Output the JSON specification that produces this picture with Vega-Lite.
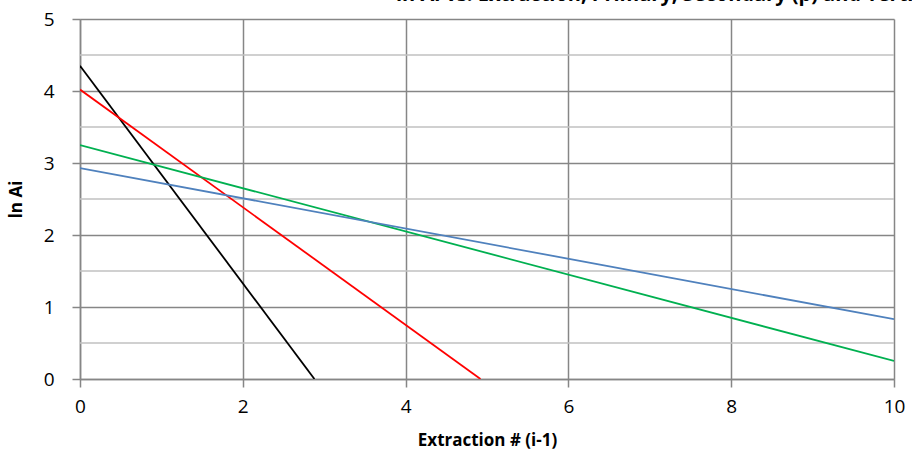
{
  "$schema": "https://vega.github.io/schema/vega-lite/v6.json",
  "width": 814,
  "height": 360,
  "autosize": {"type": "none"},
  "padding": {"left": 80, "top": 19, "right": 18, "bottom": 89},
  "background": "white",
  "title": {
    "text": "ln Ai vs. Extraction, Primary, Secondary (p) and Tertiary",
    "anchor": "end",
    "orient": "top",
    "frame": "group",
    "offset": 0,
    "baseline": "alphabetic",
    "font": "Open Sans",
    "fontSize": 20,
    "fontWeight": "bold",
    "color": "black",
    "dx": 52,
    "dy": 11
  },
  "config": {
    "view": {"stroke": null},
    "axis": {
      "labelFont": "Open Sans",
      "labelFontSize": 19,
      "labelColor": "black",
      "titleFont": "Open Sans",
      "titleFontSize": 17,
      "titleFontWeight": "bold",
      "titleColor": "black",
      "domainColor": "#868686",
      "tickColor": "#868686",
      "gridColor": "#868686",
      "gridWidth": 1.5,
      "domainWidth": 1.5,
      "tickWidth": 1.5,
      "tickSize": 8,
      "labelFlush": false
    }
  },
  "datasets": {
    "lines": [
      {"series": "black", "x": 0, "y": 4.35},
      {"series": "black", "x": 2.88, "y": 0},
      {"series": "red", "x": 0, "y": 4.02},
      {"series": "red", "x": 4.92, "y": 0},
      {"series": "green", "x": 0, "y": 3.25},
      {"series": "green", "x": 10, "y": 0.25},
      {"series": "blue", "x": 0, "y": 2.93},
      {"series": "blue", "x": 10, "y": 0.83}
    ],
    "minor": [
      {"y": 0.5}, {"y": 1.5}, {"y": 2.5}, {"y": 3.5}, {"y": 4.5}
    ]
  },
  "layer": [
    {
      "data": {"name": "minor"},
      "mark": {"type": "rule", "color": "#c0c0c0", "strokeWidth": 1.5},
      "encoding": {
        "y": {"field": "y", "type": "quantitative", "scale": {"domain": [0, 5]}}
      }
    },
    {
      "data": {"name": "lines"},
      "mark": {"type": "line", "strokeWidth": 1.8, "clip": true},
      "encoding": {
        "x": {
          "field": "x",
          "type": "quantitative",
          "scale": {"domain": [0, 10], "nice": false},
          "axis": {
            "values": [0, 2, 4, 6, 8, 10],
            "format": "d",
            "title": "Extraction # (i-1)",
            "titlePadding": 16,
            "labelPadding": 10,
            "grid": true
          }
        },
        "y": {
          "field": "y",
          "type": "quantitative",
          "scale": {"domain": [0, 5], "nice": false},
          "axis": {
            "values": [0, 1, 2, 3, 4, 5],
            "format": "d",
            "title": "ln Ai",
            "titlePadding": 18,
            "labelPadding": 18,
            "grid": true
          }
        },
        "color": {
          "field": "series",
          "type": "nominal",
          "scale": {
            "domain": ["black", "red", "green", "blue"],
            "range": ["#000000", "#ff0000", "#00b050", "#4f81bd"]
          },
          "legend": null
        },
        "detail": {"field": "series"}
      }
    }
  ]
}
